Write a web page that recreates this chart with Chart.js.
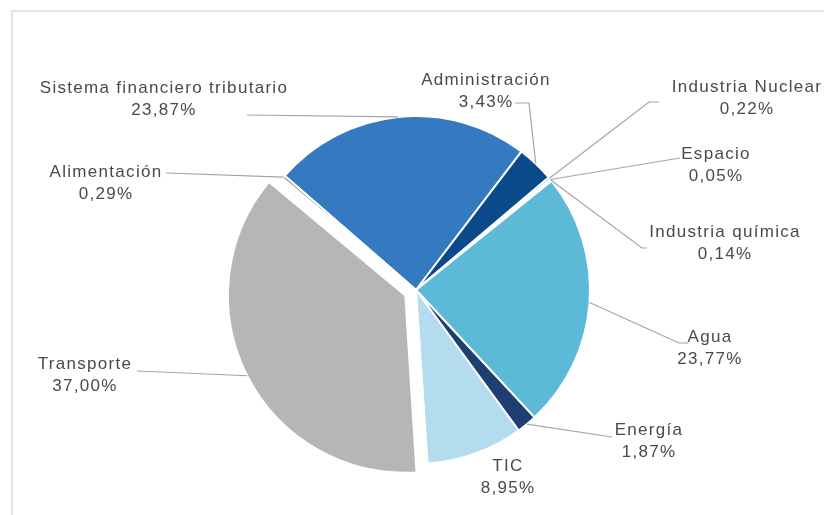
<!DOCTYPE html>
<html><head><meta charset="utf-8">
<script src="https://cdn.jsdelivr.net/npm/chart.js@4.4.0/dist/chart.umd.min.js"></script>
<style>html,body{margin:0;padding:0;background:#fff;} #wrap{position:relative;width:824px;height:515px;}</style>
</head><body><div id="wrap"><canvas id="c" width="824" height="515"></canvas></div>
<script>
// ---- data ----
const categories = ['Sistema financiero tributario','Administración','Industria Nuclear','Espacio','Industria química','Agua','Energía','TIC','Transporte','Alimentación'];
const shares = [23.87, 3.43, 0.22, 0.05, 0.14, 23.77, 1.87, 8.95, 37.00, 0.29];

// ---- styling / layout (kept apart from data) ----
const sliceColors = ['#3579c1','#0a4a8b','#2a64a8','#4a8fcf','#7fc4e0','#5db9d8','#1f3f73','#b4dcef','#b6b6b6','#9a9a9a'];
const sliceOffsets = [0,0,0,0,0,0,0,0,48,0];
// text centre x, first-line y, leader path points (from text side toward slice)
const labelLayout = [
  {x:164, y:88,  path:[[247,115]]},
  {x:486, y:80,  path:[[515,103],[529,103]]},
  {x:747, y:87,  path:[[659,102],[649,102]]},
  {x:716, y:154, path:[[680,158]]},
  {x:725, y:232, path:[[647,248],[642,248]]},
  {x:710, y:337, path:[[688,343],[679,343]]},
  {x:649, y:430, path:[[612,437]]},
  {x:508, y:466, path:null},
  {x:85,  y:364, path:[[137,371]]},
  {x:106, y:172, path:[[166,173]]}
];
const fmt = v => v.toFixed(2).replace('.', ',') + '%';

const framePlugin = {
  id: 'frame',
  beforeDraw(chart) {
    const ctx = chart.ctx;
    ctx.save();
    ctx.strokeStyle = '#e4e4e4';
    ctx.lineWidth = 2;
    ctx.beginPath();
    ctx.moveTo(12, 515); ctx.lineTo(12, 11); ctx.lineTo(824, 11);
    ctx.stroke();
    ctx.restore();
  }
};

const labelPlugin = {
  id: 'pieLabels',
  afterDatasetsDraw(chart) {
    const ctx = chart.ctx;
    const meta = chart.getDatasetMeta(0);
    ctx.save();
    meta.data.forEach((arc, i) => {
      const p = arc.getProps(['x','y','startAngle','endAngle','outerRadius'], true);
      const mid = (p.startAngle + p.endAngle) / 2;
      const off = (arc.options.offset || 0) / 4;
      const circ = p.endAngle - p.startAngle;
      const fix = 1 - Math.sin(Math.min(Math.PI, circ));
      const r = p.outerRadius + off * fix;
      const cx = p.x + Math.cos(mid) * off, cy = p.y + Math.sin(mid) * off;
      const ax = cx + Math.cos(mid) * r, ay = cy + Math.sin(mid) * r;
      const L = labelLayout[i];
      if (L.path) {
        ctx.strokeStyle = '#a4a4a4';
        ctx.lineWidth = 1.2;
        ctx.beginPath();
        ctx.moveTo(L.path[0][0], L.path[0][1]);
        for (let k = 1; k < L.path.length; k++) ctx.lineTo(L.path[k][0], L.path[k][1]);
        ctx.lineTo(ax, ay);
        ctx.stroke();
      }
      ctx.fillStyle = '#4a4a4a';
      ctx.font = '17px "Liberation Sans", Arial, sans-serif';
      try { ctx.letterSpacing = '1.3px'; } catch(e) {}
      ctx.textAlign = 'center';
      ctx.textBaseline = 'middle';
      ctx.fillText(categories[i], L.x, L.y);
      ctx.fillText(fmt(shares[i]), L.x, L.y + 22);
    });
    ctx.restore();
  }
};

new Chart(document.getElementById('c'), {
  type: 'pie',
  data: {
    labels: categories,
    datasets: [{
      data: shares,
      backgroundColor: sliceColors,
      borderColor: '#ffffff',
      borderWidth: 2,
      offset: sliceOffsets,
      radius: 174
    }]
  },
  options: {
    responsive: false,
    animation: false,
    devicePixelRatio: 1,
    rotation: -49,
    layout: { padding: { left: 8, right: 0, top: 65, bottom: 0 } },
    plugins: { legend: { display: false }, tooltip: { enabled: false } }
  },
  plugins: [framePlugin, labelPlugin]
});
</script>
</body></html>
